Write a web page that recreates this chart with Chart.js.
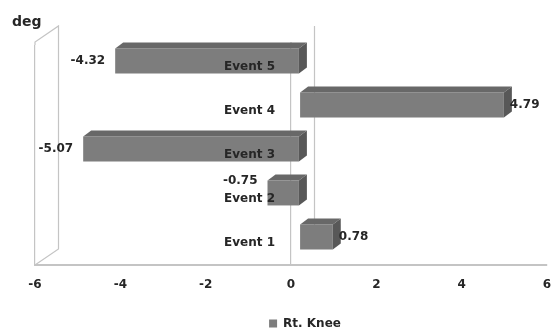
<!DOCTYPE html>
<html>
<head>
<meta charset="utf-8">
<script src="https://cdn.jsdelivr.net/npm/chart.js@4/dist/chart.umd.min.js"></script>
<style>
  html, body { margin: 0; padding: 0; background: #ffffff; }
  #wrap { width: 555px; height: 332px; position: relative; }
</style>
</head>
<body>
<div id="wrap"><canvas id="c" width="555" height="332"></canvas></div>
<script>
// ---- data ----
const categories = ['Event 1', 'Event 2', 'Event 3', 'Event 4', 'Event 5'];
const rtKnee = [0.78, -0.75, -5.07, 4.79, -4.32];
const seriesName = 'Rt. Knee';
const axisTitle = 'deg';
const xMin = -6, xMax = 6, xStep = 2;

// ---- styling ----
const FONT = '"DejaVu Sans", sans-serif';
const TEXT = '#262626';
const FRONT = '#7d7d7d';
const TOP = '#686868';
const SIDE = '#585858';
const WALL = '#c4c4c4';
const BAR_SHIFT = { x: 8.5, y: -6 };   // bars sit part-way back in the 3D box
const BAR_DEPTH = { x: 8, y: -6 };
const BOX_DEPTH = { x: 23.5, y: -16 };
const LEGEND_SHIFT = { x: 14, y: 7.5 };

const threeD = {
  id: 'threeD',
  beforeDatasetsDraw(chart) {
    const { ctx, chartArea: a, scales: { x } } = chart;
    ctx.save();
    ctx.strokeStyle = WALL;
    ctx.lineWidth = 1.2;
    const x0 = x.getPixelForValue(0);
    const xl = x.getPixelForValue(xMin);
    const wallTop = a.top - 3;
    ctx.beginPath();
    // back plane zero line
    ctx.moveTo(x0 + BOX_DEPTH.x, wallTop + BOX_DEPTH.y);
    ctx.lineTo(x0 + BOX_DEPTH.x, a.bottom + BOX_DEPTH.y);
    // left wall
    ctx.moveTo(xl, a.top);
    ctx.lineTo(xl, wallTop);
    ctx.lineTo(xl + BOX_DEPTH.x, wallTop + BOX_DEPTH.y);
    ctx.lineTo(xl + BOX_DEPTH.x, a.bottom + BOX_DEPTH.y);
    ctx.lineTo(xl, a.bottom);
    // front zero line up to wall top
    ctx.moveTo(x0, a.top);
    ctx.lineTo(x0, wallTop);
    ctx.stroke();
    ctx.restore();
    ctx.save();
    ctx.translate(BAR_SHIFT.x, BAR_SHIFT.y);
  },
  afterDatasetsDraw(chart) {
    const { ctx } = chart;
    const meta = chart.getDatasetMeta(0);
    meta.data.forEach((el) => {
      const left = Math.min(el.x, el.base);
      const right = Math.max(el.x, el.base);
      const top = el.y - el.height / 2;
      const bottom = el.y + el.height / 2;
      ctx.fillStyle = TOP;
      ctx.beginPath();
      ctx.moveTo(left, top);
      ctx.lineTo(left + BAR_DEPTH.x, top + BAR_DEPTH.y);
      ctx.lineTo(right + BAR_DEPTH.x, top + BAR_DEPTH.y);
      ctx.lineTo(right, top);
      ctx.closePath();
      ctx.fill();
      ctx.fillStyle = SIDE;
      ctx.beginPath();
      ctx.moveTo(right, top);
      ctx.lineTo(right + BAR_DEPTH.x, top + BAR_DEPTH.y);
      ctx.lineTo(right + BAR_DEPTH.x, bottom + BAR_DEPTH.y);
      ctx.lineTo(right, bottom);
      ctx.closePath();
      ctx.fill();
    });
    ctx.restore();
  },
  afterDraw(chart) {
    const { ctx, scales: { x, y } } = chart;
    const meta = chart.getDatasetMeta(0);
    const x0 = x.getPixelForValue(0);
    ctx.save();
    ctx.font = 'bold 12px ' + FONT;
    ctx.fillStyle = TEXT;
    ctx.textBaseline = 'middle';
    // category labels next to the zero line
    const catRight = x0 - 16;
    const catBoxes = [];
    categories.forEach((c, i) => {
      const cy = y.getPixelForValue(i);
      ctx.textAlign = 'right';
      ctx.fillText(c, catRight, cy);
      catBoxes.push({ l: catRight - ctx.measureText(c).width, r: catRight, y: cy });
    });
    // value labels
    meta.data.forEach((el, i) => {
      const v = rtKnee[i];
      const txt = v.toFixed(2);
      const w = ctx.measureText(txt).width;
      let lx, ly = el.y + BAR_SHIFT.y;
      if (v >= 0) {
        lx = Math.max(el.x, el.base) + BAR_SHIFT.x + BAR_DEPTH.x - 2;
      } else {
        lx = Math.min(el.x, el.base) + BAR_SHIFT.x - 10 - w;
      }
      const cb = catBoxes[i];
      if (lx < cb.r && lx + w > cb.l && Math.abs(ly - cb.y) < 12) {
        ly = cb.y - 18;
      }
      ctx.textAlign = 'left';
      ctx.fillText(txt, lx, ly);
    });
    // axis title
    ctx.font = 'bold 14px ' + FONT;
    ctx.textAlign = 'left';
    ctx.fillText(axisTitle, 12, 22);
    ctx.restore();
  },
  afterLayout(chart) {
    if (chart.legend) {
      chart.legend.left += LEGEND_SHIFT.x;
      chart.legend.right += LEGEND_SHIFT.x;
      chart.legend.top += LEGEND_SHIFT.y;
      chart.legend.bottom += LEGEND_SHIFT.y;
    }
  }
};

new Chart(document.getElementById('c'), {
  type: 'bar',
  data: {
    labels: categories,
    datasets: [{
      label: seriesName,
      data: rtKnee,
      backgroundColor: FRONT,
      borderWidth: 0,
      barPercentage: 0.566,
      categoryPercentage: 1,
      clip: false
    }]
  },
  options: {
    indexAxis: 'y',
    responsive: false,
    animation: false,
    devicePixelRatio: 1,
    layout: { padding: { left: 35, right: 8, top: 45, bottom: 0 } },
    scales: {
      x: {
        min: xMin, max: xMax,
        ticks: { stepSize: xStep, color: TEXT, font: { family: FONT, size: 12, weight: 'bold' }, padding: 13 },
        grid: {
          drawTicks: false,
          color: (ctx) => (ctx.tick && (ctx.tick.value === 0 || ctx.tick.value === xMin)) ? WALL : 'rgba(0,0,0,0)',
          lineWidth: 1.2
        },
        border: { display: true, color: WALL, width: 2 },
        afterFit: (s) => { s.height = 35; s.paddingLeft = 0; s.paddingRight = 0; }
      },
      y: {
        reverse: true,
        display: false
      }
    },
    plugins: {
      legend: {
        position: 'bottom',
        labels: {
          boxWidth: 8, boxHeight: 8,
          color: TEXT,
          font: { family: FONT, size: 12, weight: 'bold' }
        }
      },
      tooltip: { enabled: false }
    }
  },
  plugins: [threeD]
});
</script>
</body>
</html>
